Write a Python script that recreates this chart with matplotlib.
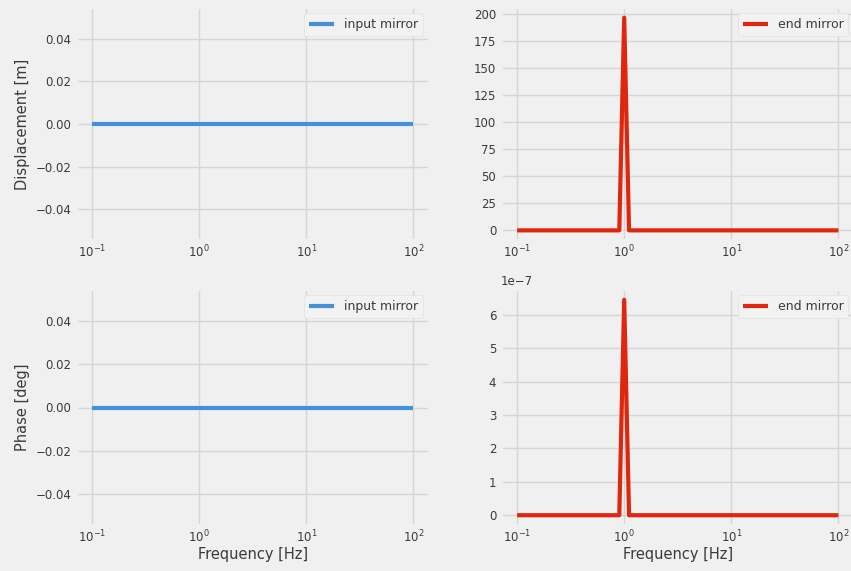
import numpy as np
import matplotlib
matplotlib.use("Agg")
import matplotlib.pyplot as plt
from matplotlib.ticker import MaxNLocator

plt.style.use("fivethirtyeight")

# frequency points [Hz] and responses
freq = [0.1, 0.9, 1.0, 1.11, 100.0]
input_disp = [0.0, 0.0, 0.0, 0.0, 0.0]
end_disp = [0.0, 0.0, 197.0, 0.0, 0.0]
input_phase = [0.0, 0.0, 0.0, 0.0, 0.0]
end_phase = [0.0, 0.0, 6.45e-7, 0.0, 0.0]

blue = "#4690da"
red = "#e0260f"
txt = "#3a3a3a"

plt.rcParams["font.size"] = 8.5
plt.rcParams["xtick.labelsize"] = 8.5
plt.rcParams["ytick.labelsize"] = 8.5
plt.rcParams["axes.labelsize"] = 10.5
plt.rcParams["legend.fontsize"] = 9
plt.rcParams["lines.linewidth"] = 3
plt.rcParams["grid.color"] = "#d6d6d6"
plt.rcParams["grid.linewidth"] = 1
plt.rcParams["text.color"] = txt
plt.rcParams["axes.labelcolor"] = txt
plt.rcParams["xtick.color"] = txt
plt.rcParams["ytick.color"] = txt
plt.rcParams["xtick.major.pad"] = 2

fig = plt.figure(figsize=(8.51, 5.71), dpi=100)
fig.patch.set_facecolor("#f0f0f0")

W, H = 851.0, 571.0
lefts = [76 / W, 501 / W]
width = 353.5 / W
rows = [(7, 241), (289, 526)]

axs = np.empty((2, 2), dtype=object)
for i, (top, bot) in enumerate(rows):
    for j, l in enumerate(lefts):
        axs[i, j] = fig.add_axes([l, (H - bot) / H, width, (bot - top) / H])

axs[0, 0].plot(freq, input_disp, color=blue, label="input mirror")
axs[0, 1].plot(freq, end_disp, color=red, label="end mirror")
axs[1, 0].plot(freq, input_phase, color=blue, label="input mirror")
axs[1, 1].plot(freq, end_phase, color=red, label="end mirror")

for ax in axs.flat:
    ax.set_xscale("log")
    ax.set_facecolor("#f0f0f0")
    ax.yaxis.set_major_locator(MaxNLocator(nbins=9, steps=[1, 2, 2.5, 5, 10]))
    ax.legend(loc="upper right", facecolor="#f2f2f2", edgecolor="#e2e2e2",
              framealpha=1)

axs[0, 0].set_ylabel("Displacement [m]")
axs[1, 0].set_ylabel("Phase [deg]")
axs[1, 0].set_xlabel("Frequency [Hz]", labelpad=1)
axs[1, 1].set_xlabel("Frequency [Hz]", labelpad=1)

fig.savefig("out.png", dpi=100, facecolor=fig.get_facecolor())
